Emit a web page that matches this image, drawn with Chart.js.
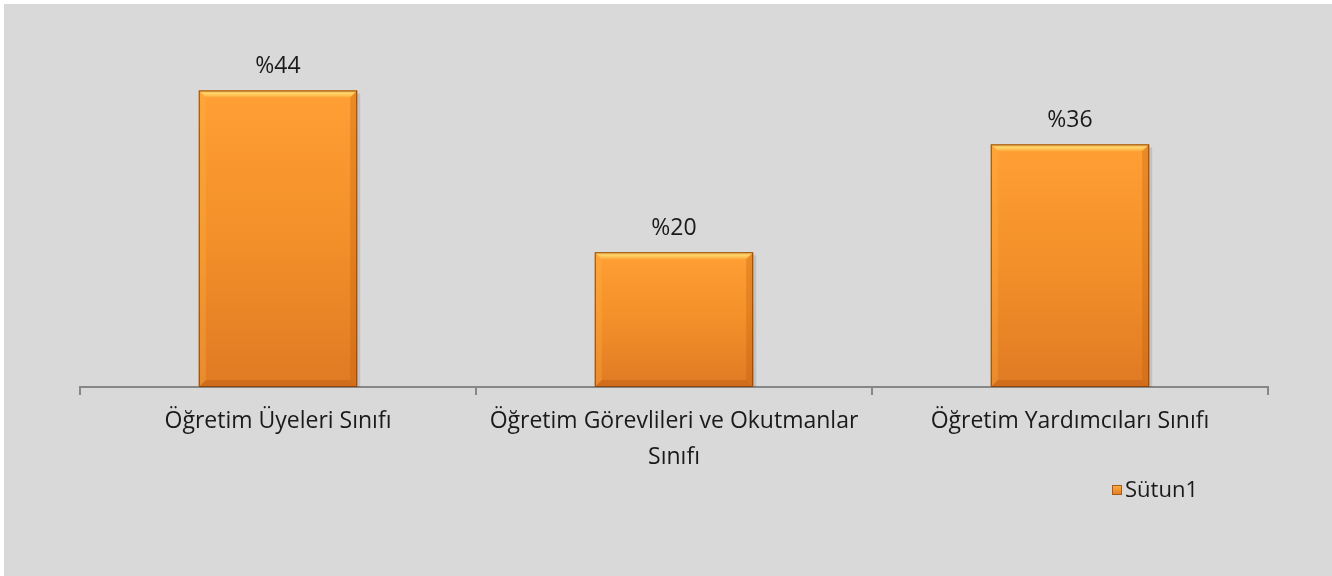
<!DOCTYPE html>
<html><head><meta charset="utf-8">
<script src="https://cdn.jsdelivr.net/npm/chart.js@4/dist/chart.umd.min.js"></script>
<style>html,body{margin:0;padding:0;background:#fff;}#wrap{width:1332px;height:576px;position:relative;}</style>
</head><body><div id="wrap"><canvas id="c" width="1332" height="576"></canvas></div>
<script>
const categories = [
  'Öğretim Üyeleri Sınıfı',
  ['Öğretim Görevlileri ve Okutmanlar', 'Sınıfı'],
  'Öğretim Yardımcıları Sınıfı'
];
const seriesName = 'Sütun1';
const values = [44, 20, 36];
const valueLabels = ['%44', '%20', '%36'];

const FONT = "'Open Sans', 'DejaVu Sans', sans-serif";

const bgPlugin = {
  id: 'bg',
  beforeDraw(chart) {
    const c = chart.ctx;
    c.save();
    c.fillStyle = '#ffffff';
    c.fillRect(0, 0, chart.width, chart.height);
    c.fillStyle = '#d9d9d9';
    c.fillRect(4, 4, chart.width - 4, chart.height - 4);
    c.restore();
  }
};

const bevelPlugin = {
  id: 'bevel',
  afterDatasetsDraw(chart) {
    const c = chart.ctx;
    const meta = chart.getDatasetMeta(0);
    meta.data.forEach((bar, i) => {
      const l = bar.x - bar.width / 2, r = bar.x + bar.width / 2;
      const t = bar.y, b = bar.base;
      const e = 7;
      c.save();
      c.fillStyle = 'rgba(0,0,0,0.10)';
      c.fillRect(r, t + 3, 3, b - t - 3);
      let bg = c.createLinearGradient(0, t, 0, b);
      bg.addColorStop(0, '#ff9f34');
      bg.addColorStop(0.5, '#f39029');
      bg.addColorStop(1, '#e07a24');
      c.fillStyle = bg;
      c.fillRect(l, t, r - l, b - t);
      let g = c.createLinearGradient(0, t, 0, t + e);
      g.addColorStop(0, '#f5ad45');
      g.addColorStop(0.45, '#ffd468');
      g.addColorStop(1, '#fda73a');
      c.fillStyle = g;
      c.beginPath(); c.moveTo(l, t); c.lineTo(r, t); c.lineTo(r - e, t + e); c.lineTo(l + e, t + e); c.closePath(); c.fill();
      c.fillStyle = 'rgba(170,80,10,0.30)';
      c.beginPath(); c.moveTo(l, b); c.lineTo(r, b); c.lineTo(r - e, b - e); c.lineTo(l + e, b - e); c.closePath(); c.fill();
      c.fillStyle = 'rgba(255,180,70,0.30)';
      c.beginPath(); c.moveTo(l, t); c.lineTo(l + e, t + e); c.lineTo(l + e, b - e); c.lineTo(l, b); c.closePath(); c.fill();
      c.fillStyle = 'rgba(190,90,10,0.30)';
      c.beginPath(); c.moveTo(r, t); c.lineTo(r - e, t + e); c.lineTo(r - e, b - e); c.lineTo(r, b); c.closePath(); c.fill();
      c.strokeStyle = 'rgba(120,60,10,0.8)';
      c.lineWidth = 1;
      c.strokeRect(l + 0.5, t + 0.5, bar.width - 1, b - t - 1);
      c.restore();
      c.save();
      c.fillStyle = '#1a1a1a';
      c.font = '23px ' + FONT;
      c.textAlign = 'center';
      c.textBaseline = 'alphabetic';
      c.fillText(valueLabels[i], bar.x, t - 17);
      c.restore();
    });
    const ds = chart.data.datasets[0];
    const lx = 1112, ly = 485;
    c.save();
    let lg = c.createLinearGradient(0, ly, 0, ly + 10);
    lg.addColorStop(0, '#ffb040'); lg.addColorStop(1, '#e07a24');
    c.fillStyle = lg;
    c.fillRect(lx, ly, 10, 10);
    c.strokeStyle = '#a85a18'; c.lineWidth = 1;
    c.strokeRect(lx + 0.5, ly + 0.5, 9, 9);
    c.fillStyle = '#1a1a1a';
    c.font = '22px ' + FONT;
    c.textBaseline = 'middle';
    c.fillText(ds.label, lx + 13, ly + 6);
    c.restore();
  }
};

new Chart(document.getElementById('c'), {
  type: 'bar',
  data: {
    labels: categories,
    datasets: [{
      label: seriesName,
      data: values,
      backgroundColor: '#f39029',
      borderWidth: 0,
      barPercentage: 0.4,
      categoryPercentage: 1.0
    }]
  },
  options: {
    responsive: false,
    animation: false,
    events: [],
    layout: { padding: { left: 80, right: 64, top: 50, bottom: 39 } },
    plugins: { legend: { display: false }, tooltip: { enabled: false } },
    scales: {
      x: {
        offset: true,
        grid: { offset: true, drawOnChartArea: false, drawTicks: true, tickLength: 8, color: '#878787', lineWidth: 2 },
        border: { display: true, color: '#878787', width: 2 },
        ticks: { color: '#1a1a1a', font: { family: FONT, size: 23, lineHeight: 1.55 }, padding: 9, maxRotation: 0, autoSkip: false },
        afterFit(scale) { scale.height = 150; }
      },
      y: { display: false, min: 0, max: 50 }
    }
  },
  plugins: [bgPlugin, bevelPlugin]
});
</script></body></html>
